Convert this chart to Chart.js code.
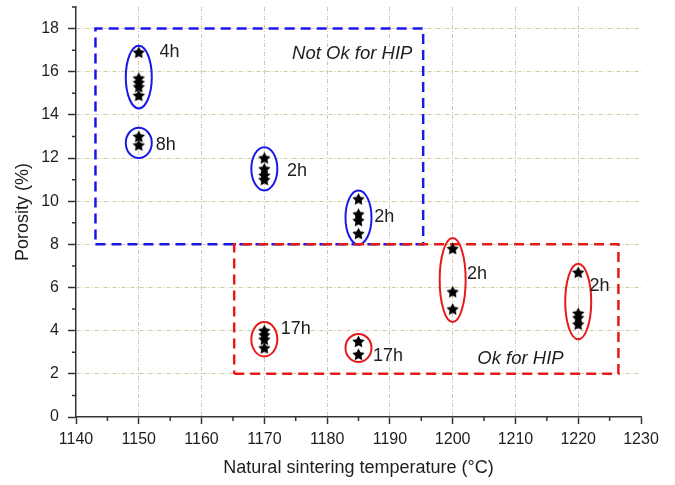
<!DOCTYPE html>
<html>
<head>
<meta charset="utf-8">
<script src="https://cdn.jsdelivr.net/npm/chart.js"></script>
<style>
    body { margin: 0; background: #fff; }
    canvas { display: block; }
</style>
</head>
<body>
<canvas id="myChart" width="675" height="485"></canvas>
<script>
// =============================================
//
// Porosity vs natural sintering temperature
// points grouped by dwell time, circled per group
//
// =============================================

const groupTemp = [1150, 1150, 1170, 1185, 1200, 1220, 1170, 1185];
const groupHours = ["4h", "8h", "2h", "2h", "2h", "2h", "17h", "17h"];
const groupPorosity = [
    [16.9, 15.7, 15.5, 15.3, 14.9],
    [13.0, 12.6],
    [12.0, 11.5, 11.2, 11.0],
    [10.1, 9.4, 9.1, 8.5],
    [7.8, 5.8, 5.0],
    [6.7, 4.8, 4.6, 4.3],
    [4.0, 3.8, 3.6, 3.2],
    [3.5, 2.9],
];

// ellipse extent around each group (porosity %)
const groupTop = [17.2, 13.4, 12.5, 10.5, 8.3, 7.1, 4.4, 3.85];
const groupBottom = [14.3, 12.0, 10.5, 8.0, 4.4, 3.6, 2.8, 2.55];

// where each dwell-time label sits (temperature, porosity)
const labelTemp = [1153.3, 1152.7, 1173.6, 1187.5, 1202.3, 1221.8, 1172.6, 1187.3];
const labelPorosity = [16.9, 12.6, 11.4, 9.25, 6.64, 6.05, 4.08, 2.84];

// HIP zones
const notOkTemp = [1143.1, 1195.3];
const notOkPorosity = [8, 18];
const okTemp = [1165.2, 1226.4];
const okPorosity = [2, 8];
const zoneNames = ["Not Ok for HIP", "Ok for HIP"];
const zoneNameTemp = [1184, 1210.8];
const zoneNamePorosity = [16.85, 2.7];

// axes
const xTickValues = [1140, 1150, 1160, 1170, 1180, 1190, 1200, 1210, 1220, 1230];
const xMinorValues = [1145, 1155, 1165, 1175, 1185, 1195, 1205, 1215, 1225];
const yTickValues = [0, 2, 4, 6, 8, 10, 12, 14, 16, 18];
const yMinorValues = [1, 3, 5, 7, 9, 11, 13, 15, 17, 19];

const BLUE = "#1a1ae6";
const RED = "#e61a1a";
const FONT = "'Liberation Sans', Arial, sans-serif";
const TEXT = "#1e1e1e";
const AXIS = "#333";
const GRID = "rgba(185, 175, 115, 0.65)";

function makeStar(r) {
    const c = document.createElement("canvas");
    const s = Math.ceil(r * 2 + 2);
    c.width = c.height = s;
    const g = c.getContext("2d");
    g.translate(s / 2, s / 2 + 0.5);
    g.beginPath();
    for (let i = 0; i < 10; i++) {
        const rad = i % 2 ? r * 0.5 : r;
        const a = -Math.PI / 2 + (i * Math.PI) / 5;
        g.lineTo(rad * Math.cos(a), rad * Math.sin(a));
    }
    g.closePath();
    g.fillStyle = "#000";
    g.fill();
    return c;
}

function zonePath(xs, ys) {
    return [
        { x: xs[0], y: ys[0] },
        { x: xs[1], y: ys[0] },
        { x: xs[1], y: ys[1] },
        { x: xs[0], y: ys[1] },
        { x: xs[0], y: ys[0] },
    ];
}

const points = [];
groupTemp.forEach((t, i) => {
    groupPorosity[i].forEach((p) => points.push({ x: t, y: p }));
});

function groupColor(i) {
    return (groupTop[i] + groupBottom[i]) / 2 > 8 ? BLUE : RED;
}

// ellipses round each group, then the text on top
const groupEllipses = {
    id: "groupEllipses",
    beforeDatasetsDraw(chart) {
        const { ctx, scales: { x, y } } = chart;
        ctx.save();
        ctx.lineWidth = 2;
        groupTemp.forEach((t, i) => {
            const cx = x.getPixelForValue(t);
            const top = y.getPixelForValue(groupTop[i]);
            const bottom = y.getPixelForValue(groupBottom[i]);
            ctx.strokeStyle = groupColor(i);
            ctx.beginPath();
            ctx.ellipse(cx, (top + bottom) / 2, 13, (bottom - top) / 2, 0, 0, Math.PI * 2);
            ctx.stroke();
        });
        ctx.restore();
    },
    afterDatasetsDraw(chart) {
        const { ctx, scales: { x, y } } = chart;
        ctx.save();
        ctx.fillStyle = TEXT;
        ctx.textBaseline = "middle";
        ctx.textAlign = "left";
        ctx.font = "18px " + FONT;
        groupHours.forEach((h, i) => {
            ctx.fillText(h, x.getPixelForValue(labelTemp[i]), y.getPixelForValue(labelPorosity[i]));
        });
        ctx.font = "italic 18.5px " + FONT;
        ctx.textAlign = "center";
        zoneNames.forEach((n, i) => {
            ctx.fillText(n, x.getPixelForValue(zoneNameTemp[i]), y.getPixelForValue(zoneNamePorosity[i]));
        });
        ctx.restore();
    },
};

// short minor ticks between the labelled ones
const minorTicks = {
    id: "minorTicks",
    afterDraw(chart) {
        const { ctx, chartArea, scales: { x, y } } = chart;
        ctx.save();
        ctx.strokeStyle = AXIS;
        ctx.lineWidth = 1.5;
        ctx.beginPath();
        xMinorValues.forEach((v) => {
            const px = x.getPixelForValue(v);
            ctx.moveTo(px, chartArea.bottom);
            ctx.lineTo(px, chartArea.bottom + 4);
        });
        yMinorValues.forEach((v) => {
            const py = y.getPixelForValue(v);
            ctx.moveTo(chartArea.left, py);
            ctx.lineTo(chartArea.left - 4, py);
        });
        ctx.stroke();
        ctx.restore();
    },
};

const gridColor = (edges) => (c) => (edges.includes(c.tick?.value) ? "rgba(0,0,0,0)" : GRID);

const config = {
    type: "scatter",
    data: {
        datasets: [
            {
                label: "porosity",
                data: points,
                pointStyle: makeStar(6.5),
                radius: 6,
                order: 0,
            },
            {
                label: "ok",
                data: zonePath(okTemp, okPorosity),
                showLine: true,
                borderColor: RED,
                borderWidth: 2.5,
                borderDash: [10, 6],
                pointRadius: 0,
                order: 1,
            },
            {
                label: "not ok",
                data: zonePath(notOkTemp, notOkPorosity),
                showLine: true,
                borderColor: BLUE,
                borderWidth: 2.5,
                borderDash: [10, 6],
                pointRadius: 0,
                order: 2,
            },
        ],
    },
    options: {
        responsive: false,
        animation: false,
        layout: { padding: { top: 3, right: 34, left: 0, bottom: 0 } },
        plugins: { legend: { display: false }, tooltip: { enabled: false } },
        scales: {
            x: {
                type: "linear",
                min: 1140,
                max: 1230,
                afterBuildTicks: (s) => { s.ticks = xTickValues.map((v) => ({ value: v })); },
                afterFit: (s) => { s.height = 68; s.paddingLeft = 0; s.paddingRight = 0; },
                ticks: {
                    color: TEXT,
                    font: { family: FONT, size: 16 },
                    padding: 6,
                    maxRotation: 0,
                    callback: (v) => String(v),
                },
                grid: { color: gridColor([1140, 1230]), tickColor: AXIS, tickLength: 7, tickWidth: 1.5, lineWidth: 1 },
                border: { color: AXIS, width: 1.5, dash: [4, 2, 1, 2] },
                title: {
                    display: true,
                    text: "Natural sintering temperature (°C)",
                    color: TEXT,
                    font: { family: FONT, size: 18 },
                    padding: { bottom: 6 },
                },
            },
            y: {
                min: 0,
                max: 19,
                afterBuildTicks: (s) => { s.ticks = yTickValues.map((v) => ({ value: v })); },
                afterFit: (s) => { s.width = 76; s.paddingTop = 0; s.paddingBottom = 0; },
                ticks: { color: TEXT, font: { family: FONT, size: 16 }, padding: 9, callback: (v) => String(v) },
                grid: { color: gridColor([0, 19]), tickColor: AXIS, tickLength: 8, tickWidth: 1.5, lineWidth: 1 },
                border: { color: AXIS, width: 1.5, dash: [4, 2, 1, 2] },
                title: {
                    display: true,
                    text: "Porosity (%)",
                    color: TEXT,
                    font: { family: FONT, size: 18 },
                    padding: { top: 12 },
                },
            },
        },
    },
    plugins: [groupEllipses, minorTicks],
};

new Chart(document.getElementById("myChart"), config);
</script>
</body>
</html>
